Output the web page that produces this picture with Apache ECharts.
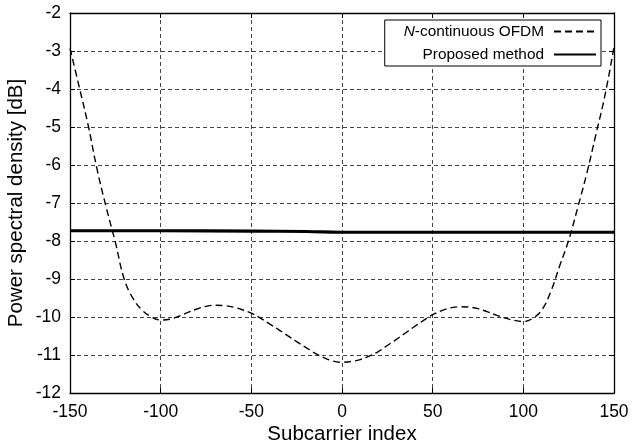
<!DOCTYPE html>
<html>
<head>
<meta charset="utf-8">
<script src="https://cdn.jsdelivr.net/npm/echarts@6/dist/echarts.min.js"></script>
<style>
html,body{margin:0;padding:0;background:#fff;}
#chart{width:633px;height:446px;}
</style>
</head>
<body>
<div id="chart"></div>
<script>
// Subcarrier index positions
var subcarriers = [-150,-145,-140,-135,-130,-125,-120,-115,-110,-105,-100,-95,-90,-85,-80,-75,-70,-65,-60,-55,-50,-45,-40,-35,-30,-25,-20,-15,-10,-5,0,5,10,15,20,25,30,35,40,45,50,55,60,65,70,75,80,85,90,95,100,105,110,115,120,125,130,135,140,145,150];
// N-continuous OFDM PSD [dB]
var ncOfdm = [-2.93,-3.93,-4.95,-6.13,-7.12,-8.03,-9.02,-9.53,-9.83,-10.0,-10.08,-10.06,-9.98,-9.88,-9.79,-9.72,-9.69,-9.70,-9.74,-9.81,-9.90,-10.03,-10.18,-10.33,-10.49,-10.65,-10.80,-10.95,-11.07,-11.16,-11.19,-11.17,-11.12,-11.03,-10.91,-10.75,-10.59,-10.42,-10.25,-10.09,-9.94,-9.83,-9.76,-9.73,-9.74,-9.78,-9.86,-9.95,-10.03,-10.09,-10.12,-10.04,-9.83,-9.35,-8.66,-7.98,-7.12,-6.22,-5.2,-4.17,-2.89];
// Proposed method PSD [dB]
var proposedX = [-150,-100,-50,-20,0,50,100,150];
var proposedY = [-7.73,-7.73,-7.74,-7.75,-7.77,-7.77,-7.77,-7.77];

var xTicks = [-150,-100,-50,0,50,100,150];
var yTicks = [-12,-11,-10,-9,-8,-7,-6,-5,-4,-3,-2];

function zip(a,b){ return a.map(function(v,i){ return [v,b[i]]; }); }

var FONT = 'Liberation Sans, Arial, sans-serif';
var chart = echarts.init(document.getElementById('chart'), null, {renderer:'canvas'});
var gridLine = {show:true, lineStyle:{color:'#444', width:1, type:[4,3]}};
chart.setOption({
  animation:false,
  textStyle:{fontFamily:FONT},
  grid:{left:70, right:19, top:13, bottom:53, containLabel:false, outerBoundsMode:'none'},
  legend:{
    orient:'vertical', align:'right', right:32, top:20,
    backgroundColor:'#fff', borderColor:'#000', borderWidth:1,
    padding:[4,4,4,19], itemGap:8, itemWidth:42, itemHeight:14,
    itemStyle:{opacity:0},
    textStyle:{fontFamily:FONT, fontSize:15.4, color:'#000', padding:[0,5,0,0],
      rich:{i:{fontFamily:FONT, fontSize:15.4, fontStyle:'italic', color:'#000'}}},
    formatter:function(n){ return n === 'N-continuous OFDM' ? '{i|N}-continuous OFDM' : n; },
    data:['N-continuous OFDM','Proposed method']
  },
  xAxis:[{
    type:'value', min:-150, max:150, interval:50,
    name:'Subcarrier index', nameLocation:'middle', nameGap:31, nameMoveOverlap:false,
    nameTextStyle:{fontFamily:FONT, fontSize:20.5, color:'#000'},
    axisLine:{show:true, onZero:false, lineStyle:{color:'#000', width:1.3}},
    axisTick:{show:true, inside:true, length:5, lineStyle:{color:'#000'}},
    axisLabel:{fontFamily:FONT, fontSize:17.5, color:'#000', margin:10,
      formatter:function(v){ return xTicks.indexOf(v) >= 0 ? String(v) : ''; }},
    splitLine:gridLine
  },{
    type:'value', min:-150, max:150, interval:50, position:'top',
    axisLine:{show:true, onZero:false, lineStyle:{color:'#000', width:1.3}},
    axisTick:{show:true, inside:true, length:5, lineStyle:{color:'#000'}},
    axisLabel:{show:false}, splitLine:{show:false}
  }],
  yAxis:[{
    type:'value', min:-12, max:-2, interval:1,
    name:'Power spectral density [dB]', nameLocation:'middle', nameGap:43, nameRotate:90, nameMoveOverlap:false,
    nameTextStyle:{fontFamily:FONT, fontSize:20.5, color:'#000'},
    axisLine:{show:true, onZero:false, lineStyle:{color:'#000', width:1.3}},
    axisTick:{show:true, inside:true, length:5, lineStyle:{color:'#000'}},
    axisLabel:{fontFamily:FONT, fontSize:17.5, color:'#000', margin:9,
      formatter:function(v){ return yTicks.indexOf(v) >= 0 ? String(v) : ''; }},
    splitLine:gridLine
  },{
    type:'value', min:-12, max:-2, interval:1, position:'right',
    axisLine:{show:true, onZero:false, lineStyle:{color:'#000', width:1.3}},
    axisTick:{show:true, inside:true, length:5, lineStyle:{color:'#000'}},
    axisLabel:{show:false}, splitLine:{show:false}
  }],
  series:[{
    name:'N-continuous OFDM', type:'line', data:zip(subcarriers, ncOfdm),
    smooth:0.4, symbol:'none', z:3,
    lineStyle:{color:'#000', width:1.4, type:[7,4]}, itemStyle:{color:'#000'}
  },{
    name:'Proposed method', type:'line', data:zip(proposedX, proposedY),
    smooth:true, symbol:'none', z:4,
    lineStyle:{color:'#000', width:3.2, type:'solid'}, itemStyle:{color:'#000'}
  }]
});
</script>
</body>
</html>
